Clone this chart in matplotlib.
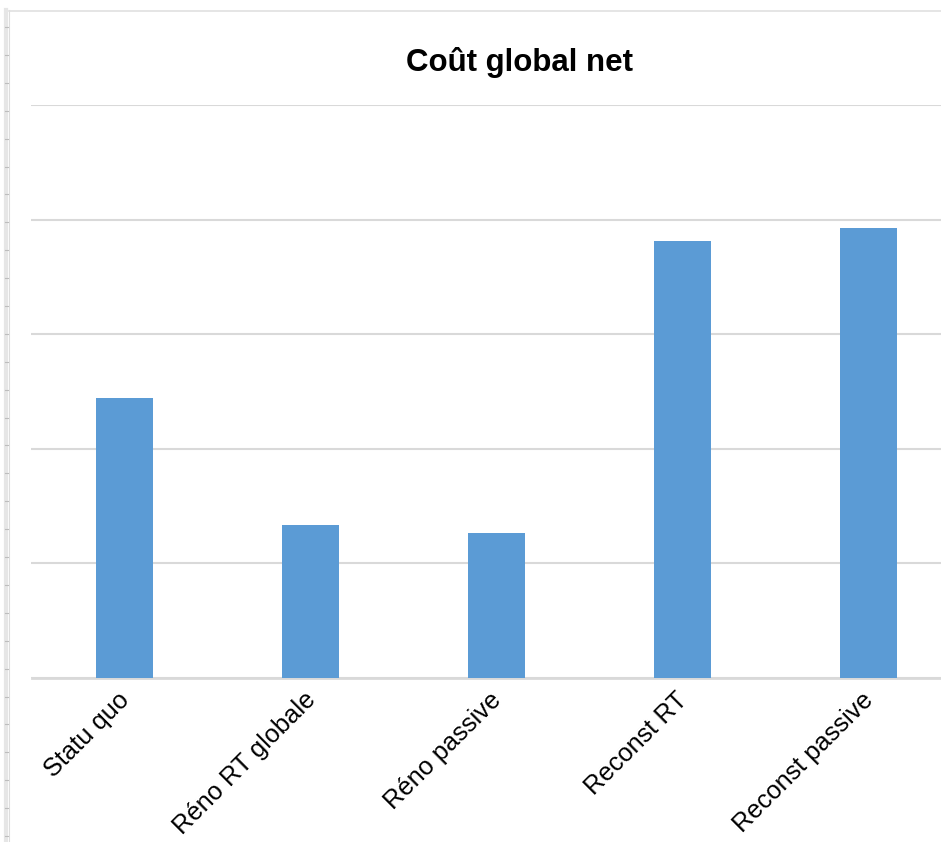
import matplotlib.pyplot as plt
from matplotlib.lines import Line2D
from matplotlib.transforms import ScaledTranslation

plt.rcParams['font.family'] = ['Liberation Sans', 'DejaVu Sans']

# scenarios and their net global cost (relative units, no scale shown)
scenarios = ['Statu quo', 'Réno RT globale', 'Réno passive', 'Reconst RT', 'Reconst passive']
cout_net = [2.44, 1.335, 1.265, 3.81, 3.93]

W, H = 941, 842
fig = plt.figure(figsize=(W / 100, H / 100), dpi=100)

# plot area runs past the right edge of the image
left, bottom = 31.5 / W, (H - 678) / H
ax = fig.add_axes([left, bottom, 930 / W, 573 / H])

x = range(len(scenarios))
ax.bar(x, cout_net, width=0.31, color='#5B9BD5', zorder=3)

ax.set_xlim(-0.5, 4.5)
ax.set_ylim(0, 5)
ax.set_yticks([0, 1, 2, 3, 4, 5])
ax.set_yticklabels([])
ax.yaxis.grid(True, color='#D9D9D9', linewidth=1.5, zorder=0)
ax.tick_params(axis='y', length=0)
ax.tick_params(axis='x', length=0, pad=6)
for s in ['top', 'right', 'left']:
    ax.spines[s].set_visible(False)
ax.spines['bottom'].set_color('#D9D9D9')
ax.spines['bottom'].set_linewidth(2)

ax.set_xticks(list(x))
labels = ax.set_xticklabels(scenarios, rotation=45, ha='right', va='top',
                            rotation_mode='anchor', fontsize=18.3, color='black')
shift = ScaledTranslation(-5 / 72, -1 / 72, fig.dpi_scale_trans)
for lab in labels:
    lab.set_transform(lab.get_transform() + shift)

fig.text(520 / W, 1 - 63 / H, 'Coût global net', ha='center', va='center',
         fontsize=22.5, fontweight='bold')

# sheet frame: left ruler strip and top border
fig.add_artist(Line2D([6 / W, 6 / W], [0, 1 - 10 / H], color='#E6E6E6', lw=3))
fig.add_artist(Line2D([9 / W, 9 / W], [0, 1 - 10 / H], color='#DDDDDD', lw=0.8))
fig.add_artist(Line2D([9 / W, 1], [1 - 10.5 / H, 1 - 10.5 / H], color='#E0E0E0', lw=1.2))
yy = 27
while yy < H:
    fig.add_artist(Line2D([4.5 / W, 7.5 / W], [1 - yy / H, 1 - yy / H], color='#BDBDBD', lw=0.8))
    yy += 27.9

fig.savefig('out.png', dpi=100)
